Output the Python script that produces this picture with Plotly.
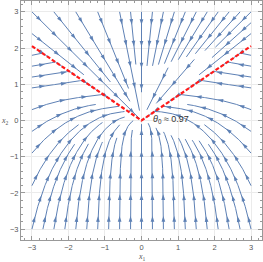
import numpy as np
import plotly.graph_objects as go

# ---- chart values ----
THETA0 = 0.97            # cone half-angle (rad) from the label
TURN_SMOOTH = 0.7        # broad angular pull below the cone
TURN_EDGE = 1.2          # strong pull right at the cone edge (sliding onto it)
EDGE_WIDTH = 0.08
FIELD_MIN, FIELD_MAX = -3.0, 3.0
AXIS_RANGE = [-3.3, 3.3]
TICK_VALUES = [-3, -2, -1, 0, 1, 2, 3]
TICK_TEXT = ["−3", "−2", "−1", "0", "1", "2", "3"]
SEPARATRIX_X = [-3.0, 0.0, 3.0]
LABEL_TEXT = "<i>θ</i><sub>0</sub> ≈ 0.97"
LABEL_POS = [0.27, 0.02]

D_SEP = 0.30
D_TEST = 0.5 * D_SEP
STEP = 0.02
ARROW_SPACING = 0.6
ARROW_OFFSET = 0.35
LINE_COLOR = "#5E81B5"


def field(x, y):
    phi = np.arctan2(x, y)
    a = abs(phi)
    if a <= THETA0:
        g = 0.0
    else:
        u = (a - THETA0) / (np.pi - THETA0)
        g = -(TURN_SMOOTH * np.sin(np.pi * u) + TURN_EDGE * np.exp(-u / EDGE_WIDTH)) * np.sign(phi)
    vx = -x + g * y
    vy = -y - g * x
    n = np.hypot(vx, vy)
    if n < 1e-12:
        return np.array([0.0, 0.0])
    return np.array([vx / n, vy / n])


cells = {}


def cell_of(p):
    return (int(np.floor(p[0] / D_SEP)), int(np.floor(p[1] / D_SEP)))


def near_other(p, dist, lid):
    ci, cj = cell_of(p)
    for di in (-1, 0, 1):
        for dj in (-1, 0, 1):
            for (qx, qy, qid) in cells.get((ci + di, cj + dj), ()):
                if qid != lid and (qx - p[0]) ** 2 + (qy - p[1]) ** 2 < dist * dist:
                    return True
    return False


def inside(p):
    return FIELD_MIN - 1e-9 <= p[0] <= FIELD_MAX + 1e-9 and FIELD_MIN - 1e-9 <= p[1] <= FIELD_MAX + 1e-9


def trace(p0, sgn, lid):
    pts = [np.array(p0, float)]
    p = pts[0]
    for _ in range(2000):
        k1 = field(*p) * sgn
        k2 = field(*(p + 0.5 * STEP * k1)) * sgn
        k3 = field(*(p + 0.5 * STEP * k2)) * sgn
        k4 = field(*(p + STEP * k3)) * sgn
        d = (k1 + 2 * k2 + 2 * k3 + k4) / 6
        if np.hypot(*d) < 1e-9:
            break
        pn = p + STEP * d
        if not inside(pn) or np.hypot(*pn) < 0.05:
            break
        if near_other(pn, D_TEST, lid):
            break
        pts.append(pn)
        p = pn
    return pts


def add_line(pts, lid):
    for p in pts:
        cells.setdefault(cell_of(p), []).append((p[0], p[1], lid))


seeds = []
edge = np.arange(FIELD_MIN, FIELD_MAX + 1e-9, D_SEP)
for t in edge:
    seeds += [(t, FIELD_MAX), (t, FIELD_MIN), (FIELD_MIN, t), (FIELD_MAX, t)]
grid = np.arange(FIELD_MIN + D_SEP / 2, FIELD_MAX, D_SEP / 2)
for gx in grid:
    for gy in grid:
        seeds.append((gx, gy))

lines = []
lid = 0
for s in seeds:
    s = np.array(s, float)
    if np.hypot(*s) < 0.1:
        continue
    if near_other(s, D_SEP * 0.95, -1):
        continue
    back = trace(s, -1.0, lid)
    fwd = trace(s, 1.0, lid)
    pts = back[::-1] + fwd[1:]
    if len(pts) < 12:
        continue
    add_line(pts, lid)
    lines.append(np.array(pts))
    lid += 1

lx, ly = [], []
ax_, ay_, ang = [], [], []
for L in lines:
    lx += list(L[:, 0]) + [None]
    ly += list(L[:, 1]) + [None]
    seg = np.hypot(np.diff(L[:, 0]), np.diff(L[:, 1]))
    s = np.concatenate([[0], np.cumsum(seg)])
    total = s[-1]
    pos = ARROW_OFFSET
    while pos < total - 0.05:
        i = np.searchsorted(s, pos)
        i = min(max(i, 1), len(L) - 1)
        dx, dy = L[i] - L[i - 1]
        ax_.append(L[i, 0])
        ay_.append(L[i, 1])
        ang.append(np.degrees(np.arctan2(dx, dy)))
        pos += ARROW_SPACING

sep_x = np.array(SEPARATRIX_X)
sep_y = np.abs(sep_x) / np.tan(THETA0)

fig = go.Figure()
fig.add_trace(go.Scatter(x=lx, y=ly, mode="lines",
                         line=dict(color=LINE_COLOR, width=1), hoverinfo="skip"))
fig.add_trace(go.Scatter(x=ax_, y=ay_, mode="markers",
                         marker=dict(symbol="arrow", size=6, angle=ang, color=LINE_COLOR,
                                     line=dict(width=0)), hoverinfo="skip"))
fig.add_trace(go.Scatter(x=sep_x, y=sep_y, mode="lines",
                         line=dict(color="#ff1a1a", width=2.2, dash="4px,2px"), hoverinfo="skip"))

axis_common = dict(
    range=AXIS_RANGE, tickmode="array", tickvals=TICK_VALUES, ticktext=TICK_TEXT,
    ticks="inside", ticklen=4, tickcolor="#999", tickwidth=1,
    showline=True, linecolor="#999", linewidth=1, mirror="ticks",
    showgrid=True, gridcolor="#ebebeb", gridwidth=1, zeroline=False,
    tickfont=dict(family="Liberation Sans, Arial", size=7.5, color="#555"),
    minor=dict(ticks="inside", ticklen=2, tickcolor="#999", tickmode="linear",
               tick0=0, dtick=0.2, showgrid=False),
    fixedrange=True, automargin=False,
)
fig.update_layout(
    width=263, height=262,
    margin=dict(l=21, r=1, t=1, b=22),
    paper_bgcolor="white", plot_bgcolor="white",
    showlegend=False,
    xaxis=dict(**axis_common),
    yaxis=dict(**axis_common),
    annotations=[
        dict(x=LABEL_POS[0], y=LABEL_POS[1], xref="x", yref="y", text=LABEL_TEXT,
             showarrow=False, xanchor="left", yanchor="middle",
             font=dict(family="Liberation Sans, Arial", size=9, color="#333")),
        dict(x=0.5, y=0, xref="paper", yref="paper", yshift=-17, text="<i>x</i><sub>1</sub>",
             showarrow=False, xanchor="center", yanchor="middle",
             font=dict(family="Liberation Serif, Times New Roman", size=8, color="#555")),
        dict(x=0, y=0.5, xref="paper", yref="paper", xshift=-16, text="<i>x</i><sub>2</sub>",
             showarrow=False, xanchor="center", yanchor="middle",
             font=dict(family="Liberation Serif, Times New Roman", size=8, color="#555")),
    ],
)
fig.write_html("out.html", config={"displayModeBar": False},
               post_script="document.body.style.margin='0px';document.body.style.overflow='hidden';")
